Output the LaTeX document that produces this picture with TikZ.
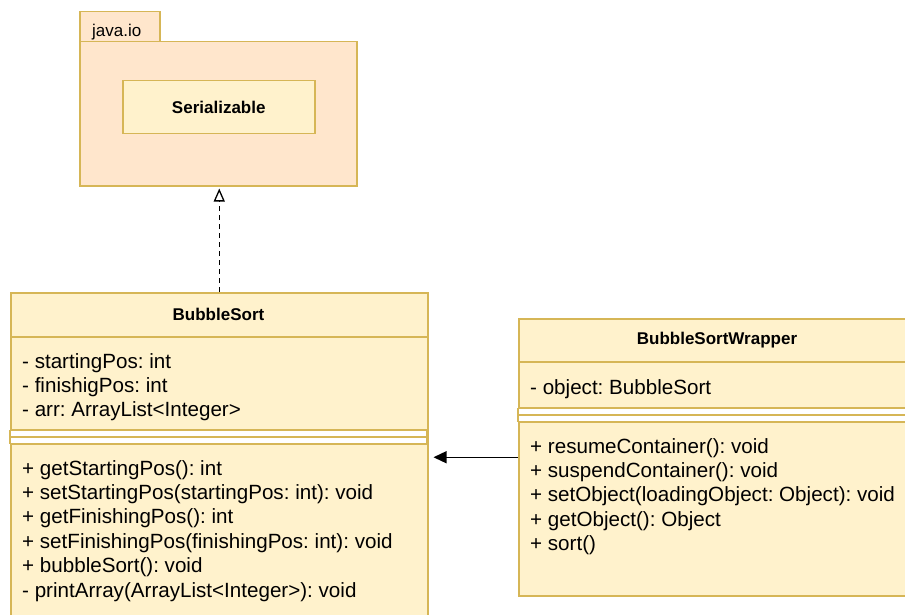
\documentclass[tikz,border=0pt]{standalone}
\usepackage{fontspec}
\setmainfont{Liberation Sans}
\usetikzlibrary{arrows.meta}
\usetikzlibrary{positioning}
\definecolor{pkgFill}{HTML}{FFE6CC}
\definecolor{clsFill}{HTML}{FFF2CC}
\definecolor{clsLine}{HTML}{D6B656}
\tikzstyle{pkgbox} = [draw=clsLine, fill=pkgFill, line width=1.5pt, inner sep=0, anchor=north west]
\tikzstyle{clsbox} = [draw=clsLine, fill=clsFill, line width=1.5pt, inner sep=0, anchor=north west]
\tikzstyle{sepline} = [draw=clsLine, line width=1.5pt]
\tikzstyle{titletext} = [font=\fontsize{17}{20}\selectfont\bfseries, inner sep=0]
\tikzstyle{membertext} = [font=\fontsize{20.6}{24.4}\selectfont\frenchspacing, inner sep=0, anchor=base west]

\begin{document}
\begin{tikzpicture}[x=1pt, y=-1pt]
    \clip (0,0) rectangle (905,615);
    \fill[white] (0,0) rectangle (905,615);
    % package java.io
    \node[pkgbox, minimum width=80, minimum height=30] (pkg_tab) at (79,11) {};
    \node[pkgbox, minimum width=277, minimum height=144] (pkg) at (79,41) {};
    \node[titletext, font=\fontsize{17}{20}\selectfont, anchor=base west] (pkg_name) at (92,37) {java.io};
    \node[clsbox, minimum width=192, minimum height=53, titletext] (serial) at (122,80) {Serializable};
    % BubbleSort
    \node[clsbox, minimum width=417, minimum height=340] (bubble) at (10,292) {};
    \node[titletext] (bubble_name) at (218.5,314.5) {BubbleSort};
    \draw[sepline] (10,337) -- (427,337);
    \fill[white] (10,430) rectangle (427,444);
    \draw[sepline] (10,430) -- (427,430);
    \draw[sepline] (10,437) -- (427,437);
    \draw[sepline] (10,444) -- (427,444);
    \draw[sepline] (10,430) -- (10,444) (427,430) -- (427,444);
    \foreach \txt [count=\i from 0] in {- startingPos: int, - finishigPos: int, - arr: ArrayList<Integer>}
        \node[membertext] (bubble_attr\i) at (22,368+24.4*\i) {\txt};
    \foreach \txt [count=\i from 0] in {+ getStartingPos(): int, + setStartingPos(startingPos: int): void, + getFinishingPos(): int, + setFinishingPos(finishingPos: int): void, + bubbleSort(): void, - printArray(ArrayList<Integer>): void}
        \node[membertext] (bubble_op\i) at (22,475+24.4*\i) {\txt};
    % BubbleSortWrapper
    \node[clsbox, minimum width=398, minimum height=277] (wrapper) at (518,318) {};
    \node[titletext] (wrapper_name) at (717,340) {BubbleSortWrapper};
    \draw[sepline] (518,362) -- (916,362);
    \fill[white] (518,408) rectangle (916,422);
    \draw[sepline] (518,408) -- (916,408);
    \draw[sepline] (518,415) -- (916,415);
    \draw[sepline] (518,422) -- (916,422);
    \draw[sepline] (518,408) -- (518,422);
    \node[membertext] (wrapper_attr0) at (530,394) {- object: BubbleSort};
    \foreach \txt [count=\i from 0] in {+ resumeContainer(): void, + suspendContainer(): void, + setObject(loadingObject: Object): void, + getObject(): Object, + sort()}
        \node[membertext] (wrapper_op\i) at (530,453+24.4*\i) {\txt};
    % relations
    \draw[line width=1.3pt, dash pattern=on 5pt off 4pt, -{Triangle[open, length=13pt, width=11pt, line width=1.3pt]}, shorten >=2pt] (bubble.north) -- (bubble.north |- pkg.south);
    \draw[line width=1.3pt, -{Triangle[length=13pt, width=12pt]}, shorten >=5pt] (wrapper.west) -- (wrapper.west -| bubble.east);
\end{tikzpicture}
\end{document}
